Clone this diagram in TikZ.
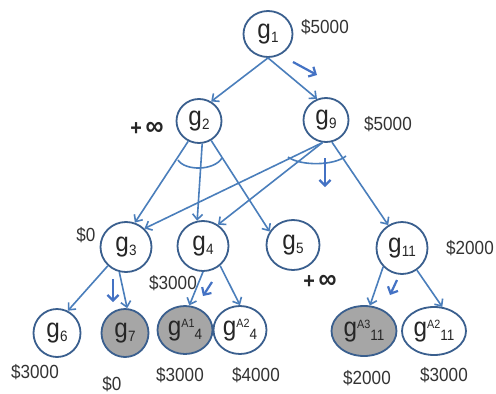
\documentclass[tikz,border=0pt]{standalone}
\usepackage{fontspec}
\setmainfont[FakeStretch=0.9]{Liberation Sans}
\usetikzlibrary{shapes.geometric,arrows.meta}
\definecolor{edgeblue}{HTML}{4A7EBB}
\definecolor{ringblue}{HTML}{3A5F8E}
\definecolor{markblue}{HTML}{4472C4}
\definecolor{nodegray}{HTML}{A6A6A6}
\newcommand\gname[1]{{\fontsize{27}{27}\selectfont g\raisebox{-4pt}{\fontsize{15}{15}\selectfont #1}}}
\newcommand\gsup[2]{{\fontsize{27}{27}\selectfont g\raisebox{8pt}{\fontsize{12}{12}\selectfont #1}\raisebox{-4pt}{\fontsize{15}{15}\selectfont #2}}}
\newcommand\plusinf{{\fontsize{22}{22}\selectfont\bfseries +}\kern3.5pt{\fontsize{28}{28}\selectfont\bfseries ∞}}
\tikzset{
  gnode/.style={ellipse, draw=ringblue, line width=1.8pt, fill=white, inner sep=0pt, text=black!85},
  shaded/.style={gnode, fill=nodegray},
  cost/.style={inner sep=0pt, font=\fontsize{19}{19}\selectfont, text=black!80},
  infty/.style={inner sep=0pt, text=black!85},
  link/.style={draw=edgeblue, line width=1.6pt, -{Straight Barb[length=5.5pt,width=10pt,line width=1.6pt]}},
  pointer/.style={draw=markblue, line width=2.2pt, -{Straight Barb[length=5.5pt,width=11pt,line width=2.2pt]}},
  andarc/.style={draw=edgeblue, line width=1.6pt}
}
\begin{document}
\begin{tikzpicture}[x=1pt,y=-1pt]
\fill[white] (0,0) rectangle (496,394);
\useasboundingbox (0,0) rectangle (496,394);
% nodes
\node[gnode, minimum width=49pt, minimum height=46pt] (g1) at (268,34) {\gname{1}};
\node[gnode, minimum width=45pt, minimum height=44pt] (g2) at (199,121) {\gname{2}};
\node[gnode, minimum width=45pt, minimum height=44pt] (g9) at (326,120) {\gname{9}};
\node[gnode, minimum width=51pt, minimum height=50pt] (g3) at (126,247) {\gname{3}};
\node[gnode, minimum width=51pt, minimum height=50pt] (g4) at (203,246) {\gname{4}};
\node[gnode, minimum width=53pt, minimum height=50pt] (g5) at (293,245) {\gname{5}};
\node[gnode, minimum width=51pt, minimum height=52pt] (g11) at (402,248) {\gname{11}};
\node[gnode, minimum width=47pt, minimum height=48pt] (g6) at (57,333) {\gname{6}};
\node[shaded, minimum width=47pt, minimum height=48pt] (g7) at (125,333) {\gname{7}};
\node[shaded, minimum width=55pt, minimum height=48pt] (ga14) at (185,330) {\gsup{A1}{4}};
\node[gnode, minimum width=53pt, minimum height=48pt] (ga24) at (240,330) {\gsup{A2}{4}};
\node[shaded, minimum width=65pt, minimum height=50pt] (ga311) at (364,331) {\gsup{A3}{11}};
\node[gnode, minimum width=64pt, minimum height=48pt] (ga211) at (434,331) {\gsup{A2}{11}};
% labels
\node[cost] (c1) at (325,27) {\$5000};
\node[cost] (c9) at (388,124) {\$5000};
\node[infty] (i2) at (147,129) {\plusinf};
\node[cost] (c3) at (86,235) {\$0};
\node[cost] (c4) at (173,283) {\$3000};
\node[infty] (i5) at (320,282) {\plusinf};
\node[cost] (c11) at (470,248) {\$2000};
\node[cost] (c6) at (35,372) {\$3000};
\node[cost] (c7) at (112,384) {\$0};
\node[cost] (ca14) at (180,375) {\$3000};
\node[cost] (ca24) at (256,375) {\$4000};
\node[cost] (ca311) at (367,378) {\$2000};
\node[cost] (ca211) at (444,375) {\$3000};
% connectors
\draw[link] (g1.south) -- (g2.58);
\draw[link] (g1.south) -- (g9.113);
\draw[link] (g2.-118) -- (g3.70);
\draw[link] (g2.-82) -- (g4.103);
\draw[link] (g2.-58) -- (g5.150);
\draw[link] (g9.-99) -- (g3.45);
\draw[link] (g9.-99) -- (g4.55);
\draw[link] (g9.-75) -- (g11.121);
\draw[link] (g3.-134) -- (g6.64);
\draw[link] (g3.-105) -- (g7.85);
\draw[link] (g4.-90) -- (ga14.80);
\draw[link] (g4.-49) -- (ga24.90);
\draw[link] (g11.-135) -- (ga311.77);
\draw[link] (g11.-56) -- (ga211.71);
% AND arcs
\draw[andarc] (178,160) .. controls (185,171) and (214,171) .. (222,158);
\draw[andarc] (288,157) .. controls (300,166) and (334,166) .. (346,156);
% marker arrows
\coordinate (m1a) at (293,62); \coordinate (m1b) at (317,75);
\coordinate (m9a) at (325,158); \coordinate (m9b) at (325,187);
\coordinate (m3a) at (113,279); \coordinate (m3b) at (113,302);
\coordinate (m4a) at (212,282); \coordinate (m4b) at (203,296);
\coordinate (m11a) at (397,280); \coordinate (m11b) at (390,295);
\draw[pointer] (m1a) -- (m1b);
\draw[pointer] (m9a) -- (m9b);
\draw[pointer] (m3a) -- (m3b);
\draw[pointer] (m4a) -- (m4b);
\draw[pointer] (m11a) -- (m11b);
\end{tikzpicture}
\end{document}
